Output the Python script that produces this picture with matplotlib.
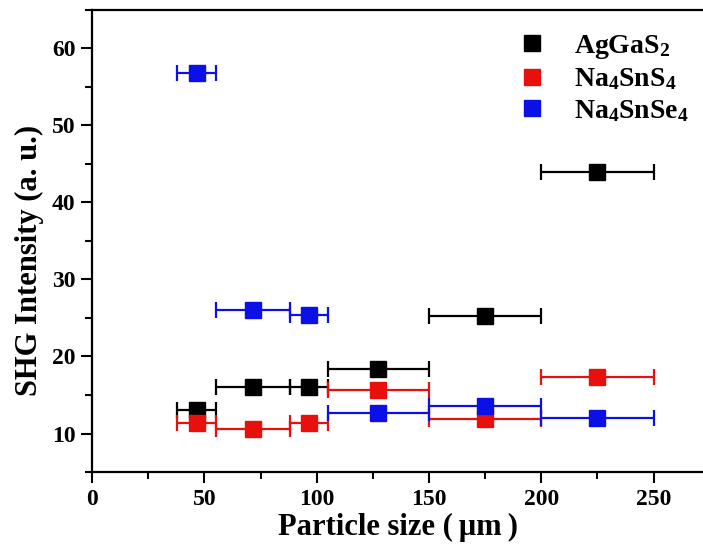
import matplotlib
matplotlib.use("Agg")
import matplotlib.pyplot as plt
from matplotlib.ticker import MultipleLocator
from matplotlib.lines import Line2D

plt.rcParams['font.family'] = ['Liberation Serif', 'DejaVu Serif']
plt.rcParams['font.weight'] = 'bold'
plt.rcParams['mathtext.fontset'] = 'custom'
plt.rcParams['mathtext.rm'] = 'Liberation Serif:bold'
plt.rcParams['mathtext.bf'] = 'Liberation Serif:bold'
plt.rcParams['mathtext.default'] = 'bf'

# particle size ranges (um)
size_low = [38, 55, 88, 105, 150, 200]
size_high = [55, 88, 105, 150, 200, 250]
size_mid = [(a + b) / 2 for a, b in zip(size_low, size_high)]

agga_s2 = [13.1, 16.0, 16.0, 18.4, 25.2, 44.0]
na4sns4 = [11.3, 10.6, 11.3, 15.6, 11.9, 17.3]
na4snse4 = [56.8, 26.0, 25.4, 12.6, 13.6, 12.0]

series = [
    ("AgGaS$_2$", agga_s2, "black"),
    ("Na$_4$SnS$_4$", na4sns4, "#e8100c"),
    ("Na$_4$SnSe$_4$", na4snse4, "#0a10e6"),
]

fig = plt.figure(figsize=(7.03, 5.54), dpi=100)
ax = fig.add_axes([0.131, 0.148, 0.869, 0.834])

xerr = [[m - lo for m, lo in zip(size_mid, size_low)],
        [hi - m for m, hi in zip(size_mid, size_high)]]

handles = []
for label, vals, col in series:
    ax.errorbar(size_mid, vals, xerr=xerr, fmt='s', color=col, ecolor=col,
                markersize=12, elinewidth=1.6, capsize=6, capthick=1.6,
                linestyle='none')
    handles.append(Line2D([], [], marker='s', linestyle='none', color=col,
                          markersize=11.5, label=label))

ax.set_xlim(0, 272)
ax.set_ylim(5, 65)
ax.xaxis.set_major_locator(MultipleLocator(50))
ax.xaxis.set_minor_locator(MultipleLocator(25))
ax.yaxis.set_major_locator(MultipleLocator(10))
ax.yaxis.set_minor_locator(MultipleLocator(5))
ax.tick_params(which='major', direction='out', length=8, width=1.5,
               labelsize=17, pad=4)
ax.tick_params(which='minor', direction='out', length=5, width=1.5)
ax.tick_params(top=False, right=False)
for lab in ax.get_xticklabels() + ax.get_yticklabels():
    lab.set_fontweight('bold')
for s in ['left', 'bottom', 'top']:
    ax.spines[s].set_linewidth(1.6)
ax.spines['right'].set_visible(False)

ax.set_xlabel('Particle size (\u2009\u03bcm\u2009)', fontsize=22, fontweight='bold',
              labelpad=2)
ax.set_ylabel('SHG Intensity (a. u.)', fontsize=22, fontweight='bold')
ax.yaxis.set_label_coords(-0.079, 0.457)

leg = ax.legend(handles=handles, loc='upper left', bbox_to_anchor=(0.675, 0.974),
                frameon=False, fontsize=20, handletextpad=0.9,
                handlelength=1.2, labelspacing=0.2, borderaxespad=0.0)

fig.savefig('out.png', dpi=100)
